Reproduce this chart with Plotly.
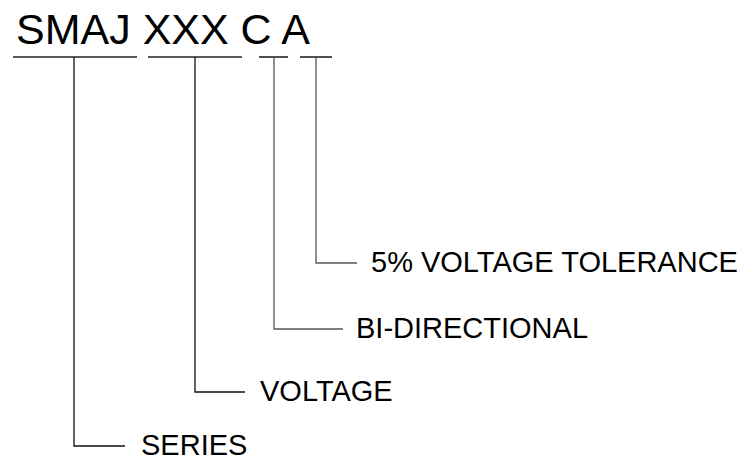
import plotly.graph_objects as go

# Part-number code and its segments
code_text = "SMAJ XXX C A"
segment_names = ["SMAJ", "XXX", "C", "A"]
underline_start = [13, 148, 259, 300]
underline_end = [137, 242, 288, 332]
stem_x = [74, 195, 274, 316]
label_y = [446, 392, 329, 263]
leader_end = [125, 245, 343, 357]
labels = ["SERIES", "VOLTAGE", "BI-DIRECTIONAL", "5% VOLTAGE TOLERANCE"]
label_x = [139, 258, 354, 369]
line_colors = ["#111111", "#111111", "#555555", "#555555"]

underline_y = 57
W, H = 744, 458

fig = go.Figure()

for i in range(len(segment_names)):
    fig.add_trace(go.Scatter(
        x=[underline_start[i], underline_end[i]], y=[underline_y, underline_y],
        mode="lines", line=dict(color="#222222", width=1.6),
        hoverinfo="skip", showlegend=False))
    fig.add_trace(go.Scatter(
        x=[stem_x[i], stem_x[i], leader_end[i]],
        y=[underline_y, label_y[i], label_y[i]],
        mode="lines", line=dict(color=line_colors[i], width=1.3),
        hoverinfo="skip", showlegend=False))
    fig.add_annotation(
        x=label_x[i], y=label_y[i] - 1, text=labels[i],
        xanchor="left", yanchor="middle", showarrow=False,
        font=dict(family="Liberation Sans, Arial", size=29, color="#000000"))

fig.add_annotation(
    x=14, y=29, text=code_text, xanchor="left", yanchor="middle",
    showarrow=False,
    font=dict(family="Liberation Sans, Arial", size=43, color="#000000"))

fig.update_xaxes(range=[0, W], visible=False, fixedrange=True)
fig.update_yaxes(range=[H, 0], visible=False, fixedrange=True)
fig.update_layout(
    width=W, height=H, margin=dict(l=0, r=0, t=0, b=0),
    paper_bgcolor="white", plot_bgcolor="white")

fig.write_html("out.html", config={"displayModeBar": False},
               post_script="document.body.style.margin='0';")
